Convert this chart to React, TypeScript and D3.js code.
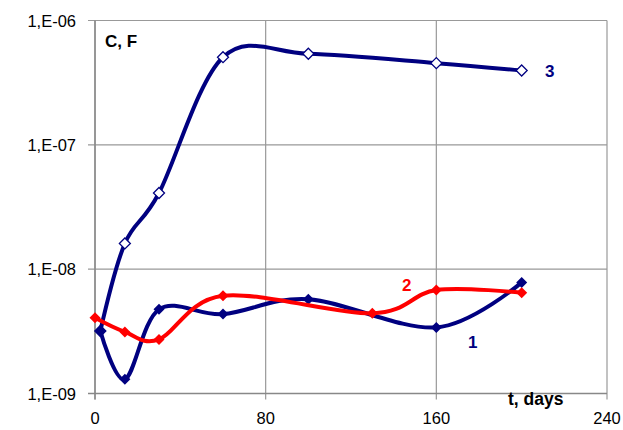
import React from "react";
import * as d3 from "d3";

const days1 = [2.5, 14, 30, 60, 100, 160, 200];
const cap1 = [3.18e-9, 1.3e-9, 4.75e-9, 4.35e-9, 5.74e-9, 3.4e-9, 7.83e-9];
const days2 = [0, 14, 30, 60, 130, 160, 200];
const cap2 = [4.06e-9, 3.13e-9, 2.72e-9, 6.11e-9, 4.41e-9, 6.79e-9, 6.46e-9];
const days3 = [2.5, 14, 30, 60, 100, 160, 200];
const cap3 = [3.18e-9, 1.61e-8, 4.1e-8, 5.07e-7, 5.4e-7, 4.54e-7, 3.96e-7];
const xTicks = [0, 80, 160, 240];
const yTicks = [1e-9, 1e-8, 1e-7, 1e-6];
const yTickLabels = ["1,E-09", "1,E-08", "1,E-07", "1,E-06"];

const W = 623;
const H = 430;
const L = 95, R = 607, T = 20.5, B = 393.5;

export default function App() {
  const x = d3.scaleLinear().domain([0, 240]).range([L, R]);
  const y = d3.scaleLog().domain([1e-9, 1e-6]).range([B, T]);
  const line = d3
    .line<[number, number]>()
    .x((d) => x(d[0]))
    .y((d) => y(d[1]))
    .curve(d3.curveCardinal.tension(0));
  const pts = (xs: number[], ys: number[]) => xs.map((v, i) => [v, ys[i]] as [number, number]);
  const diamond = (cx: number, cy: number, r: number) =>
    `M${cx},${cy - r}L${cx + r},${cy}L${cx},${cy + r}L${cx - r},${cy}Z`;
  const navy = "#000080";
  const red = "#ff0000";
  const font = "Arial, 'Liberation Sans', sans-serif";
  return (
    <svg width={W} height={H} style={{ position: "absolute", left: 0, top: 0 }} fontFamily={font}>
      <rect x={0} y={0} width={W} height={H} fill="#fff" />
      {xTicks.map((t) => (
        <line key={"gx" + t} x1={x(t)} x2={x(t)} y1={T} y2={B + 6} stroke="#999" strokeWidth={1.2} />
      ))}
      {yTicks.map((t) => (
        <line key={"gy" + t} x1={L - 7} x2={R} y1={y(t)} y2={y(t)} stroke="#999" strokeWidth={1.2} />
      ))}
      <line x1={L} x2={L} y1={T} y2={B + 6} stroke="#888" strokeWidth={1.5} />
      <line x1={L - 7} x2={R} y1={B} y2={B} stroke="#888" strokeWidth={1.5} />
      {yTicks.map((t, i) => (
        <text key={"ty" + t} x={76} y={y(t) + 6} fontSize={16.5} textAnchor="end" fill="#000">
          {yTickLabels[i]}
        </text>
      ))}
      {xTicks.map((t) => (
        <text key={"tx" + t} x={x(t)} y={424} fontSize={16.5} textAnchor="middle" fill="#000">
          {t}
        </text>
      ))}
      <path d={line(pts(days3, cap3)) || ""} fill="none" stroke={navy} strokeWidth={4} />
      {days3.map((d, i) => (
        <path key={"m3" + i} d={diamond(x(d), y(cap3[i]), 5.5)} fill="#fff" stroke={navy} strokeWidth={1.3} />
      ))}
      <path d={line(pts(days1, cap1)) || ""} fill="none" stroke={navy} strokeWidth={4} />
      {days1.map((d, i) => (
        <path key={"m1" + i} d={diamond(x(d), y(cap1[i]), 5.5)} fill={navy} />
      ))}
      <path d={line(pts(days2, cap2)) || ""} fill="none" stroke={red} strokeWidth={4} />
      {days2.map((d, i) => (
        <path key={"m2" + i} d={diamond(x(d), y(cap2[i]), 5.5)} fill={red} />
      ))}
      <text x={105} y={47} fontSize={17} fontWeight="bold" fill="#000">C, F</text>
      <text x={508} y={405} fontSize={17.5} fontWeight="bold" fill="#000">t, days</text>
      <text x={545} y={77} fontSize={17} fontWeight="bold" fill={navy}>3</text>
      <text x={402} y={291} fontSize={17} fontWeight="bold" fill={red}>2</text>
      <text x={468} y={348} fontSize={17} fontWeight="bold" fill={navy}>1</text>
    </svg>
  );
}
